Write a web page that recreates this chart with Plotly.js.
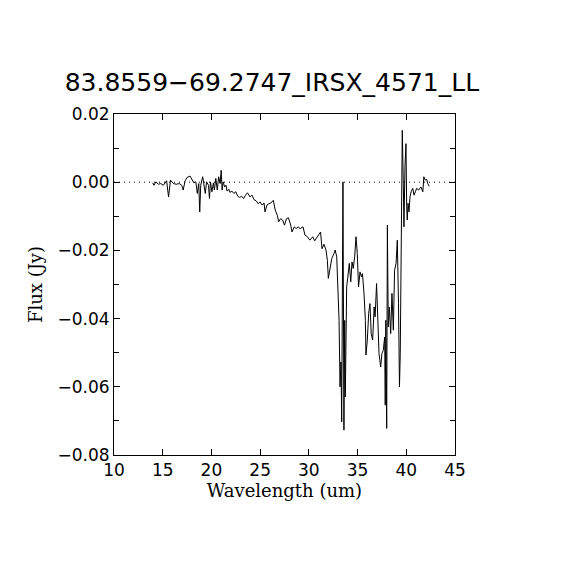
<!DOCTYPE html>
<html>
<head>
<meta charset="utf-8">
<script src="https://cdn.plot.ly/plotly-3.0.1.min.js"></script>
<style>html,body{margin:0;padding:0;background:#fff;}#chart{width:570px;height:570px;}</style>
</head>
<body>
<div id="chart"></div>
<script>
const chartTitle = "83.8559\u221269.2747_IRSX_4571_LL";
const xLabel = "Wavelength (um)";
const yLabel = "Flux (Jy)";
const xTickVals = [10, 15, 20, 25, 30, 35, 40, 45];
const yTickVals = [0.02, 0.00, -0.02, -0.04, -0.06, -0.08];
const yTickText = ["0.02", "0.00", "\u22120.02", "\u22120.04", "\u22120.06", "\u22120.08"];

const wavelength = [
  13.97, 14.1, 14.3, 14.55, 14.8, 15.06, 15.4, 15.6, 15.8, 16.1, 16.4, 16.7, 16.95, 17.1, 17.3, 17.5, 17.8, 17.97,
  18.2, 18.4, 18.55, 18.7, 18.8, 18.9, 19.1, 19.2, 19.37, 19.5, 19.7, 19.8, 19.9, 20.05, 20.2, 20.3, 20.45, 20.6,
  20.74, 20.9, 21.0, 21.1, 21.2, 21.36, 21.5, 21.6, 21.8, 21.9, 22.1, 22.3, 22.5, 22.7, 22.9, 23.1, 23.3, 23.5,
  23.7, 23.96, 24.16, 24.37, 24.6, 24.8, 25.0, 25.2, 25.4, 25.5, 25.7, 25.9, 26.1, 26.35, 26.55, 26.76, 26.9,
  27.1, 27.3, 27.5, 27.7, 27.9, 28.14, 28.27, 28.5, 28.7, 28.9, 29.1,
  29.4, 29.6, 29.85, 30.1, 30.4, 30.6, 30.87, 31.07, 31.2, 31.35, 31.55, 31.76, 31.9, 32.0, 32.17, 32.35, 32.58,
  32.7, 32.86, 33.0, 33.1, 33.2, 33.3, 33.37, 33.47, 33.5, 33.6, 33.68, 33.74, 33.88, 34.0, 34.15, 34.3, 34.43,
  34.56, 34.7, 34.84, 34.97, 35.1, 35.25, 35.4, 35.5, 35.66, 35.8, 35.86, 36.0, 36.14, 36.27, 36.4, 36.55, 36.7,
  36.8, 36.95, 37.1, 37.2, 37.37, 37.5, 37.64, 37.78, 37.84, 37.9, 37.99, 38.06, 38.15, 38.26, 38.4, 38.53, 38.67,
  38.8, 38.95, 39.08, 39.2, 39.25, 39.3, 39.38, 39.5, 39.59, 39.7, 39.76, 39.87, 39.97, 40.04, 40.1, 40.18, 40.28,
  40.38, 40.5, 40.66, 40.8, 40.93, 41.07, 41.27, 41.5, 41.7, 41.8, 41.95, 42.1, 42.2, 42.35
];
const flux = [
  -0.0002, -0.0009, 0.0001, -0.0006, -0.0004, -0.0009, 0.0004, -0.0043, 0.0006, -0.0004, -0.0006, -0.0004, -0.0009, -0.0023, 0.0004, 0.0014, 0.0018, 0.0008,
  -0.0002, 0.0001, -0.0033, -0.0004, -0.0087, -0.0009, 0.0016, -0.0002, -0.0033, 0.0001, -0.0009, -0.0048, 0.0001, -0.0028, -0.0002, -0.0023, 0.0011, -0.0023,
  0.0016, -0.0004, 0.0035, -0.0023, 0.0001, -0.0014, -0.0009, -0.0026, -0.0021, -0.0030, -0.0026, -0.0033, -0.0028, -0.0041, -0.0045, -0.0041, -0.0048, -0.0038,
  -0.0031, -0.0043, -0.0038, -0.0051, -0.0055, -0.0063, -0.0058, -0.0067, -0.0061, -0.0087, -0.0067, -0.0063, -0.0061, -0.0053, -0.0082, -0.0097, -0.0116,
  -0.0107, -0.0111, -0.0126, -0.0107, -0.0104, -0.0126, -0.0146, -0.0131, -0.0136, -0.0131, -0.0136,
  -0.0131, -0.0155, -0.0160, -0.0170, -0.0160, -0.0172, -0.0160, -0.0150, -0.0146, -0.0195, -0.0182, -0.0199, -0.0229, -0.0282, -0.0248, -0.0224, -0.0209,
  -0.0199, -0.0219, -0.0326, -0.0405, -0.0600, -0.0527, -0.0703, -0.0180, 0.0001, -0.0727, -0.0405, -0.0630, -0.0307, -0.0278, -0.0238, -0.0292, -0.0234,
  -0.0253, -0.0219, -0.0160, -0.0209, -0.0307, -0.0263, -0.0278, -0.0268, -0.0326, -0.0405, -0.0507, -0.0463, -0.0385, -0.0356, -0.0444, -0.0463, -0.0366,
  -0.0395, -0.0297, -0.0454, -0.0502, -0.0542, -0.0502, -0.0493, -0.0454, -0.0654, -0.0405, -0.0722, -0.0126, -0.0424, -0.0366, -0.0444, -0.0326, -0.0434,
  -0.0258, -0.0238, -0.0170, -0.0356, -0.0493, -0.0600, -0.0502, -0.0160, 0.0152, -0.0014, -0.0131, 0.0050, 0.0113, -0.0072, -0.0111, -0.0062, -0.0087,
  -0.0043, -0.0028, -0.0018, -0.0038, -0.0028, -0.0018, -0.0023, -0.0014, -0.0028, 0.0016, 0.0006, 0.0008, -0.0004, -0.0012
];

const zeroLineX = [10, 45];
const zeroLineY = [0, 0];

const traces = [
  {x: zeroLineX, y: zeroLineY, mode: 'lines', line: {color: '#000', width: 1, dash: '1px,4px'}, hoverinfo: 'skip', showlegend: false},
  {x: wavelength, y: flux, mode: 'lines', line: {color: '#000', width: 1}, showlegend: false}
];

const tickFont = {family: 'DejaVu Sans, sans-serif', size: 17, color: '#000'};
const layout = {
  width: 570, height: 570,
  paper_bgcolor: '#fff', plot_bgcolor: '#fff',
  margin: {l: 114, r: 115, t: 114, b: 115},
  showlegend: false,
  title: {text: chartTitle, x: 0.477, xanchor: 'center', y: 0.855, yanchor: 'middle',
          font: {family: 'DejaVu Sans, sans-serif', size: 25, color: '#000'}},
  xaxis: {
    range: [10, 45], tickmode: 'array', tickvals: xTickVals, ticktext: xTickVals.map(String),
    ticks: 'inside', ticklen: 6, tickcolor: '#000', tickwidth: 1,
    showline: true, linecolor: '#000', linewidth: 1, mirror: 'ticks',
    showgrid: false, zeroline: false, tickfont: tickFont,
    title: {text: xLabel, standoff: 4, font: {family: 'DejaVu Serif, serif', size: 18, color: '#000'}}
  },
  yaxis: {
    range: [-0.08, 0.02], tickmode: 'array', tickvals: yTickVals, ticktext: yTickText,
    ticks: 'inside', ticklen: 6, tickcolor: '#000', tickwidth: 1,
    minor: {dtick: 0.01, ticks: 'inside', ticklen: 5, tickcolor: '#000', showgrid: false},
    showline: true, linecolor: '#000', linewidth: 1, mirror: 'ticks',
    showgrid: false, zeroline: false, tickfont: tickFont,
    title: {text: yLabel, standoff: 10, font: {family: 'DejaVu Serif, serif', size: 18, color: '#000'}}
  }
};

Plotly.newPlot('chart', traces, layout, {staticPlot: true, displayModeBar: false});
</script>
</body>
</html>
